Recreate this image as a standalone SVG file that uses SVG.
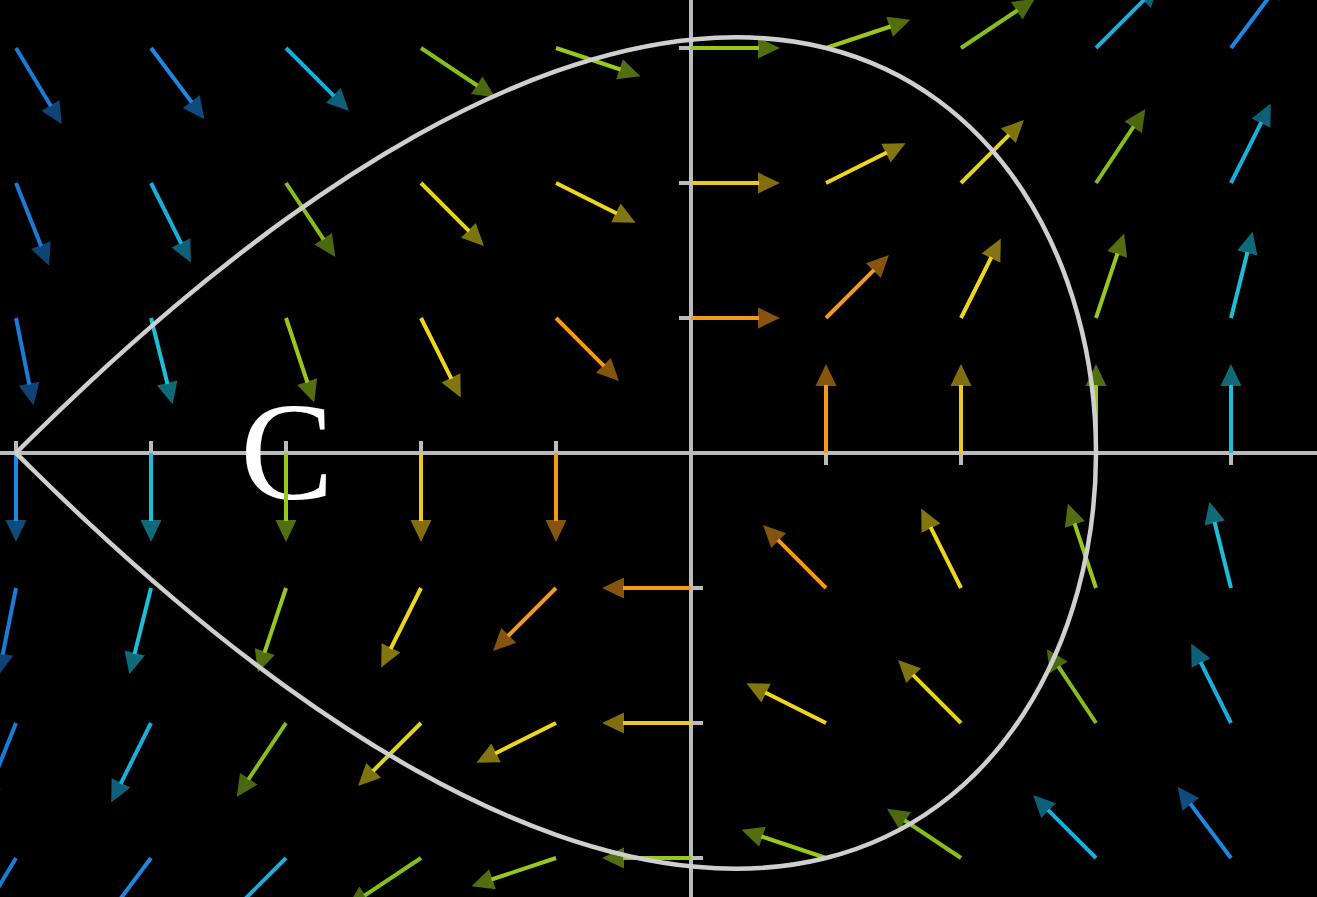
<svg xmlns="http://www.w3.org/2000/svg" xmlns:xlink="http://www.w3.org/1999/xlink" width="1317" height="897" viewBox="0 0 1317 897">
<style>
.ax{stroke:#BBBBBB;stroke-width:4;fill:none}
.curve{stroke:#CFCFCF;stroke-width:4.5;fill:none;stroke-linejoin:round}
.c1{color:#F39A1C}.c2{color:#EEC81C}.c3{color:#EED61C}.c4{color:#E2D41C}
.c5{color:#98C81C}.c6{color:#86BE1C}.c7{color:#1CBFD8}.c8{color:#1AAEDB}
.c9{color:#1C88E2}.c10{color:#1A7CD6}
.lbl{font-family:"Liberation Serif","Times New Roman",serif;font-size:140px;fill:#FFFFFF}
</style>
<defs>
<g id="a">
<line x1="0" y1="0" x2="68" y2="0" stroke="currentColor" stroke-width="4"/>
<polygon points="67,-10.5 89,0 67,10.5" fill="currentColor" fill-opacity="0.55"/>
</g>
</defs>
<rect x="0" y="0" width="1317" height="897" fill="#000000"/>
<g id="axes" class="ax">
<line x1="0" y1="453" x2="1317" y2="453"/>
<line x1="691" y1="0" x2="691" y2="897"/>
<path d="M16,441V465M151,441V465M286,441V465M421,441V465M556,441V465M691,441V465M826,441V465M961,441V465M1096,441V465M1231,441V465M679,48H703M679,183H703M679,318H703M679,453H703M679,588H703M679,723H703M679,858H703"/>
</g>
<g id="label"><text class="lbl" x="287" y="499" text-anchor="middle">C</text></g>
<g id="field">
<use href="#a" class="c10" transform="translate(16,48) rotate(59.04)"/>
<use href="#a" class="c9" transform="translate(151,48) rotate(53.13)"/>
<use href="#a" class="c8" transform="translate(286,48) rotate(45)"/>
<use href="#a" class="c6" transform="translate(421,48) rotate(33.69)"/>
<use href="#a" class="c5" transform="translate(556,48) rotate(18.43)"/>
<use href="#a" class="c5" transform="translate(691,48)"/>
<use href="#a" class="c5" transform="translate(826,48) rotate(-18.43)"/>
<use href="#a" class="c6" transform="translate(961,48) rotate(-33.69)"/>
<use href="#a" class="c8" transform="translate(1096,48) rotate(-45)"/>
<use href="#a" class="c9" transform="translate(1231,48) rotate(-53.13)"/>

<use href="#a" class="c10" transform="translate(16,183) rotate(68.2)"/>
<use href="#a" class="c8" transform="translate(151,183) rotate(63.43)"/>
<use href="#a" class="c6" transform="translate(286,183) rotate(56.31)"/>
<use href="#a" class="c4" transform="translate(421,183) rotate(45)"/>
<use href="#a" class="c3" transform="translate(556,183) rotate(26.57)"/>
<use href="#a" class="c2" transform="translate(691,183)"/>
<use href="#a" class="c3" transform="translate(826,183) rotate(-26.57)"/>
<use href="#a" class="c4" transform="translate(961,183) rotate(-45)"/>
<use href="#a" class="c6" transform="translate(1096,183) rotate(-56.31)"/>
<use href="#a" class="c8" transform="translate(1231,183) rotate(-63.43)"/>

<use href="#a" class="c10" transform="translate(16,318) rotate(78.69)"/>
<use href="#a" class="c7" transform="translate(151,318) rotate(75.96)"/>
<use href="#a" class="c5" transform="translate(286,318) rotate(71.57)"/>
<use href="#a" class="c3" transform="translate(421,318) rotate(63.43)"/>
<use href="#a" class="c1" transform="translate(556,318) rotate(45)"/>
<use href="#a" class="c1" transform="translate(691,318)"/>
<use href="#a" class="c1" transform="translate(826,318) rotate(-45)"/>
<use href="#a" class="c3" transform="translate(961,318) rotate(-63.43)"/>
<use href="#a" class="c5" transform="translate(1096,318) rotate(-71.57)"/>
<use href="#a" class="c7" transform="translate(1231,318) rotate(-75.96)"/>

<use href="#a" class="c9" transform="translate(16,453) rotate(90)"/>
<use href="#a" class="c7" transform="translate(151,453) rotate(90)"/>
<use href="#a" class="c5" transform="translate(286,453) rotate(90)"/>
<use href="#a" class="c2" transform="translate(421,453) rotate(90)"/>
<use href="#a" class="c1" transform="translate(556,453) rotate(90)"/>
<use href="#a" class="c1" transform="translate(826,453) rotate(-90)"/>
<use href="#a" class="c2" transform="translate(961,453) rotate(-90)"/>
<use href="#a" class="c5" transform="translate(1096,453) rotate(-90)"/>
<use href="#a" class="c7" transform="translate(1231,453) rotate(-90)"/>

<use href="#a" class="c10" transform="translate(16,588) rotate(101.31)"/>
<use href="#a" class="c7" transform="translate(151,588) rotate(104.04)"/>
<use href="#a" class="c5" transform="translate(286,588) rotate(108.43)"/>
<use href="#a" class="c3" transform="translate(421,588) rotate(116.57)"/>
<use href="#a" class="c1" transform="translate(556,588) rotate(135)"/>
<use href="#a" class="c1" transform="translate(691,588) rotate(180)"/>
<use href="#a" class="c1" transform="translate(826,588) rotate(-135)"/>
<use href="#a" class="c3" transform="translate(961,588) rotate(-116.57)"/>
<use href="#a" class="c5" transform="translate(1096,588) rotate(-108.43)"/>
<use href="#a" class="c7" transform="translate(1231,588) rotate(-104.04)"/>

<use href="#a" class="c10" transform="translate(16,723) rotate(111.8)"/>
<use href="#a" class="c8" transform="translate(151,723) rotate(116.57)"/>
<use href="#a" class="c6" transform="translate(286,723) rotate(123.69)"/>
<use href="#a" class="c4" transform="translate(421,723) rotate(135)"/>
<use href="#a" class="c3" transform="translate(556,723) rotate(153.43)"/>
<use href="#a" class="c2" transform="translate(691,723) rotate(180)"/>
<use href="#a" class="c3" transform="translate(826,723) rotate(-153.43)"/>
<use href="#a" class="c4" transform="translate(961,723) rotate(-135)"/>
<use href="#a" class="c6" transform="translate(1096,723) rotate(-123.69)"/>
<use href="#a" class="c8" transform="translate(1231,723) rotate(-116.57)"/>

<use href="#a" class="c10" transform="translate(16,858) rotate(120.96)"/>
<use href="#a" class="c9" transform="translate(151,858) rotate(126.87)"/>
<use href="#a" class="c8" transform="translate(286,858) rotate(135)"/>
<use href="#a" class="c6" transform="translate(421,858) rotate(146.31)"/>
<use href="#a" class="c5" transform="translate(556,858) rotate(161.57)"/>
<use href="#a" class="c5" transform="translate(691,858) rotate(180)"/>
<use href="#a" class="c5" transform="translate(826,858) rotate(-161.57)"/>
<use href="#a" class="c6" transform="translate(961,858) rotate(-146.31)"/>
<use href="#a" class="c8" transform="translate(1096,858) rotate(-135)"/>
<use href="#a" class="c9" transform="translate(1231,858) rotate(-126.87)"/>
</g>
<g id="contour">
<path class="curve" d="M16,453 C16,453 22.2,446.75 34.4,434.76 C46.6,422.77 64.79,405.06 88.35,383.12 C111.91,361.18 140.84,335.02 174.16,306.88 C207.48,278.74 245.19,248.62 286,219.17 C326.81,189.72 370.72,160.95 416.24,135.47 C461.76,109.99 508.88,87.82 556,71.16 C603.12,54.5 650.24,43.36 695.76,39.18 C741.28,35 785.19,37.8 826,48 C866.81,58.2 904.52,75.82 937.84,100.23 C971.16,124.64 1000.09,155.83 1023.65,192.2 C1047.21,228.57 1065.4,270.1 1077.6,314.43 C1089.8,358.76 1096,405.88 1096,453 C1096,500.12 1089.8,547.24 1077.6,591.57 C1065.4,635.9 1047.21,677.43 1023.65,713.8 C1000.09,750.17 971.16,781.36 937.84,805.77 C904.52,830.18 866.81,847.8 826,858 C785.19,868.2 741.28,871 695.76,866.82 C650.24,862.64 603.12,851.5 556,834.84 C508.88,818.18 461.76,796.01 416.24,770.53 C370.72,745.05 326.81,716.28 286,686.83 C245.19,657.38 207.48,627.26 174.16,599.12 C140.84,570.98 111.91,544.82 88.35,522.88 C64.79,500.94 46.6,483.23 34.4,471.24 C22.2,459.25 16,453 16,453 Z"/>
</g>
</svg>
